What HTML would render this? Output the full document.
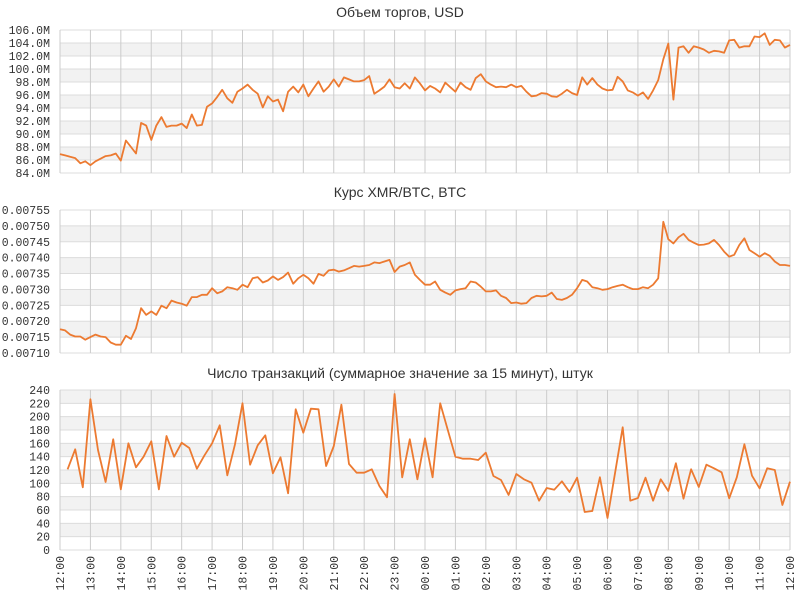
<!DOCTYPE html>
<html><head><meta charset="utf-8"><style>
body{margin:0;background:#fff;width:800px;height:600px;overflow:hidden}
svg{display:block}
text{font-family:"Liberation Mono","DejaVu Sans Mono",monospace;fill:#333}
.title{font-family:"Liberation Sans","DejaVu Sans",sans-serif;font-size:14px}
</style></head><body>
<svg id="chart" width="800" height="600" xmlns="http://www.w3.org/2000/svg"></svg>
<script>
const hourLabels=["12:00","13:00","14:00","15:00","16:00","17:00","18:00","19:00","20:00","21:00","22:00","23:00","00:00","01:00","02:00","03:00","04:00","05:00","06:00","07:00","08:00","09:00","10:00","11:00","12:00"];
const volumeValues=[86.9,86.7,86.5,86.3,85.5,85.8,85.2,85.8,86.2,86.6,86.7,87.0,85.9,89.0,88.0,87.0,91.7,91.3,89.1,91.3,92.6,91.1,91.3,91.3,91.6,90.9,93.0,91.3,91.4,94.2,94.7,95.7,96.8,95.5,94.8,96.5,97.0,97.6,96.8,96.2,94.1,95.8,95.0,95.3,93.5,96.5,97.3,96.4,97.6,95.8,97.0,98.1,96.5,97.3,98.4,97.3,98.7,98.4,98.1,98.1,98.3,98.9,96.2,96.7,97.3,98.4,97.2,97.0,97.8,97.0,98.7,97.8,
96.7,97.4,97.0,96.4,97.9,97.2,96.5,97.9,97.2,96.8,98.6,99.2,98.1,97.6,97.2,97.3,97.2,97.6,97.2,97.4,96.5,95.8,95.9,96.3,96.2,95.8,95.7,96.2,96.8,96.3,96.0,98.7,97.6,98.6,97.6,97.0,96.7,96.8,98.8,98.1,96.7,96.4,95.9,96.4,95.4,96.7,98.3,101.5,103.9,95.3,103.3,103.5,102.5,103.5,103.3,103.0,102.5,102.8,102.7,102.5,104.4,104.5,103.3,103.5,103.5,105.0,104.9,105.5,103.7,104.5,104.4,103.3,103.7];
const volumeTicks=[84,86,88,90,92,94,96,98,100,102,104,106];
const rateValues=[717.5,717.1,715.8,715.2,715.2,714.2,715.0,715.8,715.2,715.0,713.3,712.6,712.6,715.4,714.4,717.8,724.1,722.0,723.1,722.0,724.9,724.1,726.5,725.9,725.5,724.9,727.6,727.6,728.3,728.3,730.4,728.8,729.4,730.7,730.4,729.9,731.5,730.7,733.5,733.9,732.2,732.8,734.1,733.0,733.9,735.3,731.8,733.5,734.6,733.5,731.8,734.9,734.3,736.0,736.2,735.6,736.0,736.7,737.4,737.2,737.4,737.7,738.5,738.3,738.8,739.3,735.5,737.2,737.7,738.5,734.6,733.0,
731.5,731.5,732.5,729.9,729.0,728.3,729.7,730.1,730.4,732.5,732.2,730.9,729.4,729.4,729.7,728.0,727.3,725.7,725.9,725.5,725.7,727.3,728.0,727.8,728.0,729.0,727.0,726.7,727.3,728.3,730.4,733.0,732.5,730.7,730.4,729.9,730.1,730.7,731.1,731.5,730.7,730.1,730.1,730.7,730.4,731.5,733.5,751.3,745.8,744.5,746.4,747.5,745.6,744.7,744.0,744.1,744.5,745.6,744.0,741.9,740.3,740.9,744.0,746.1,742.4,741.4,740.3,741.4,740.6,738.8,737.7,737.7,737.4];
const rateTicks=[710,715,720,725,730,735,740,745,750,755];
const txValues=[121,151,94,226,150,102,166,91,160,124,140,163,91,171,140,161,153,122,142,160,187,112,158,220,128,157,172,115,139,85,211,176,212,211,126,156,218,129,116,116,121,96,79,234,109,166,106,
167.5,109,220,180,140,137,137,135,146,111,105,82.5,114,106,101,74,93,90.5,103,87,108.5,57,58.5,109,48,116,184,74,78,108.5,74,106,88.5,130,77,121,94.5,128,122.5,116.5,77.5,109,158.5,111.5,92.5,122.5,120,67.5,102.5];
const txTicks=[0,20,40,60,80,100,120,140,160,180,200,220,240];

const NS="http://www.w3.org/2000/svg";
const svg=document.getElementById('chart');
const X0=60,X1=790,HOURS=24;
function xScale(h){return X0+(X1-X0)*h/HOURS;}
function mk(tag,attrs,parent){const e=document.createElementNS(NS,tag);for(const k in attrs)e.setAttribute(k,attrs[k]);(parent||svg).appendChild(e);return e;}

function panel(key,title,titleY,top,bottom,ticks,fmt,values,stepH,startH){
  const g=mk('g',{});
  
  
  const lo=ticks[0],hi=ticks[ticks.length-1];
  const y=v=>bottom-(v-lo)/(hi-lo)*(bottom-top);
  const t=mk('text',{x:400,y:titleY,'text-anchor':'middle',class:'title'},g);
  t.textContent=title;
  
  
  const n=ticks.length-1;
  for(let i=0;i<n;i++){
    const idxFromTop=n-1-i;
    const shaded=(key==='tx')?(idxFromTop%2===0):(idxFromTop%2===1);
    if(shaded){const r=mk('rect',{x:X0,y:y(ticks[i+1]),width:X1-X0,height:y(ticks[i])-y(ticks[i+1]),fill:'#f2f2f2'},g);
      }
  }
  ticks.forEach(v=>{
    const l=mk('line',{x1:X0,x2:X1,y1:y(v),y2:y(v),stroke:'#dcdcdc','stroke-width':1},g);
    
    const tx=mk('text',{x:50,y:y(v)+4,'text-anchor':'end','font-size':'11.5'},g);
    tx.textContent=fmt(v);
    
  });
  for(let h=0;h<=HOURS;h++){
    const l=mk('line',{x1:xScale(h),x2:xScale(h),y1:top,y2:bottom,stroke:'#cccccc','stroke-width':1},g);
    
  }
  const pts=values.map((v,i)=>xScale(startH+i*stepH).toFixed(1)+','+y(v).toFixed(1)).join(' ');
  const p=mk('polyline',{points:pts,fill:'none',stroke:'#ec7a31','stroke-width':1.8,'stroke-linejoin':'round'},g);
  
}
panel('volume','Объем торгов, USD',17,30,173,volumeTicks,v=>v.toFixed(1)+'M',volumeValues,1/6,0);
panel('rate','Курс XMR/BTC, BTC',197,210,353,rateTicks,v=>(v/100000).toFixed(5),rateValues,1/6,0);
panel('tx','Число транзакций (суммарное значение за 15 минут), штук',378,390,550,txTicks,v=>String(v),txValues,0.25,0.25);
hourLabels.forEach((lab,i)=>{
  const x=xScale(i);
  const t=mk('text',{x:0,y:0,'text-anchor':'end','font-size':'11.5',transform:`translate(${x+4},556) rotate(-90)`});
  t.textContent=lab;
  
});
</script>
</body></html>
